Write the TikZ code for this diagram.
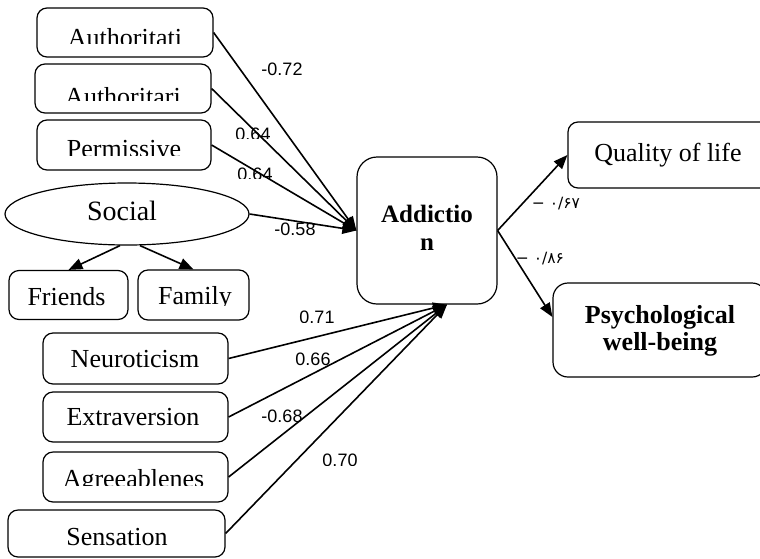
\documentclass[tikz,border=0pt]{standalone}
\usepackage{fontspec}
\setmainfont{Liberation Serif}
\newfontfamily\labelfont{Liberation Sans}
\newfontfamily\persfont[Script=Arabic]{DejaVu Sans}
\usetikzlibrary{arrows.meta,shapes.geometric}

\tikzset{
  box/.style={draw, rounded corners=10pt, line width=1.2pt, inner sep=0pt},
  boxtext/.style={anchor=base, inner sep=0pt, font=\fontsize{26}{28}\selectfont},
  coef/.style={anchor=base, inner sep=0pt, font=\labelfont\fontsize{18}{20}\selectfont},
  perscoef/.style={anchor=base, inner sep=0pt, font=\persfont\fontsize{15.5}{17}\selectfont},
  arr/.style={line width=1.6pt, -{Triangle[length=14pt,width=11pt]}}
}

\begin{document}
\begin{tikzpicture}[x=1pt, y=-1pt]
    \useasboundingbox (0,0) rectangle (760,558);

    \node[box, minimum width=176pt, minimum height=49pt] (authA)   at (125, 32.5) {};
    \node[box, minimum width=176pt, minimum height=49pt] (authB)   at (123, 88.5) {};
    \node[box, minimum width=174pt, minimum height=50pt] (perm)    at (124, 145)  {};
    \node[draw, ellipse, line width=1.2pt, minimum width=244pt, minimum height=62pt] (social) at (127, 214) {};
    \node[box, minimum width=119pt, minimum height=49pt] (friends) at (68.5, 295)  {};
    \node[box, minimum width=111pt, minimum height=50pt] (family)  at (193.5, 295) {};
    \node[box, minimum width=185pt, minimum height=51pt] (neuro)   at (135.5, 358.5) {};
    \node[box, minimum width=185pt, minimum height=50pt] (extra)   at (135.5, 417) {};
    \node[box, minimum width=185pt, minimum height=50pt] (agree)   at (135.5, 477) {};
    \node[box, minimum width=217pt, minimum height=47pt] (sens)    at (116.5, 533.5) {};
    \node[box, rounded corners=20pt, minimum width=140pt, minimum height=147pt] (addict) at (427, 230.5) {};
    \node[box, minimum width=204pt, minimum height=66pt] (qol)     at (670, 155) {};
    \node[box, rounded corners=15pt, minimum width=214pt, minimum height=94pt] (psych) at (660, 330) {};

    \begin{scope}
      \clip (37,8) rectangle (213,43);
      \node[boxtext] (tAuthA) at (125, 46) {Authoritati};
    \end{scope}
    \begin{scope}
      \clip (35,64) rectangle (211,100);
      \node[boxtext] (tAuthB) at (123, 105) {Authoritari};
    \end{scope}
    \begin{scope}
      \clip (37,120) rectangle (211,155);
      \node[boxtext] (tPerm) at (124, 157) {Permissive};
    \end{scope}
    \node[boxtext, font=\fontsize{28}{30}\selectfont] (tSocial) at (122, 220) {Social};
    \node[boxtext] (tFriends) at (66.5, 305) {Friends};
    \begin{scope}
      \clip (138,270) rectangle (249,305);
      \node[boxtext] (tFamily) at (195, 304) {Family};
    \end{scope}
    \node[boxtext] (tNeuro) at (135, 367) {Neuroticism};
    \node[boxtext] (tExtra) at (133, 425) {Extraversion};
    \begin{scope}
      \clip (43,452) rectangle (228,485);
      \node[boxtext] (tAgree) at (133.5, 487) {Agreeablenes};
    \end{scope}
    \node[boxtext] (tSens) at (117, 545) {Sensation};
    \node[boxtext, font=\bfseries\fontsize{25}{27.5}\selectfont, align=center] (tAddict) at (427, 250) {Addictio\\n};
    \node[boxtext] (tQol) at (668, 161) {Quality of life};
    \node[boxtext, font=\bfseries\fontsize{26}{27}\selectfont, align=center] (tPsych) at (660, 350) {Psychological\\well-being};

    \draw[arr] (authA.east)  -- (addict.west);
    \draw[arr] (authB.east)  -- (addict.west);
    \draw[arr] (perm.east)   -- (addict.west);
    \draw[arr] (social.east) -- (addict.west);
    \draw[arr] ([xshift=-7pt]social.south) -- (friends.north);
    \draw[arr] ([xshift=13pt]social.south) -- (family.north);
    \draw[arr] (neuro.east)  -- ([xshift=20pt]addict.south);
    \draw[arr] (extra.east)  -- ([xshift=20pt]addict.south);
    \draw[arr] (agree.east)  -- ([xshift=20pt]addict.south);
    \draw[arr] (sens.east)   -- ([xshift=20pt]addict.south);
    \draw[arr] (addict.east) -- (qol.west);
    \draw[arr] (addict.east) -- ([yshift=13pt]psych.west);

    \node[coef] (lA) at (282, 75) {-0.72};
    \begin{scope}
      \clip (220,120) rectangle (290,138);
      \node[coef] (lB) at (253, 140) {0.64};
    \end{scope}
    \begin{scope}
      \clip (220,160) rectangle (290,178);
      \node[coef] (lC) at (255, 180) {0.64};
    \end{scope}
    \node[coef] (lD) at (295, 235) {-0.58};
    \begin{scope}
      \clip (290,300) rectangle (345,322);
      \node[coef] (lE) at (317, 323) {0.71};
    \end{scope}
    \node[coef] (lF) at (313, 365) {0.66};
    \node[coef] (lG) at (282, 422) {-0.68};
    \begin{scope}
      \clip (310,445) rectangle (370,465);
      \node[coef] (lH) at (340, 466) {0.70};
    \end{scope}
    \node[perscoef] (lQ) at (556, 208) {− ۰/۶۷};
    \node[perscoef] (lP) at (540, 263) {− ۰/۸۶};
\end{tikzpicture}
\end{document}
